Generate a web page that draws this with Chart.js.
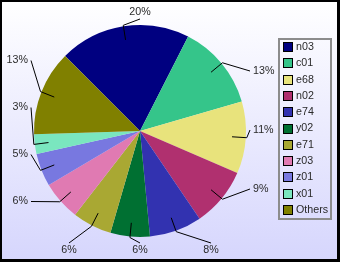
<!DOCTYPE html>
<html>
<head>
<meta charset="utf-8">
<script src="https://cdn.jsdelivr.net/npm/chart.js@4/dist/chart.umd.min.js"></script>
<style>
  html, body { margin: 0; padding: 0; background: #fff; }
  #wrap { position: relative; width: 340px; height: 262px; background: #000; overflow: hidden; }
  #bg { position: absolute; left: 2px; top: 2px; width: 335px; height: 257px;
        background: linear-gradient(#ffffff, #d6d6fd); }
  #pie { position: absolute; left: 0; top: 0; }
</style>
</head>
<body>
<div id="wrap">
  <div id="bg"></div>
  <canvas id="pie" width="340" height="262"></canvas>
</div>
<script>
(() => {
    'use strict';

    const labels = ['n03', 'c01', 'e68', 'n02', 'e74', 'y02', 'e71', 'z03', 'z01', 'x01', 'Others'];
    const values = [20, 13, 11, 9, 8, 6, 6, 6, 5, 3, 13];
    const colors = ['#000080', '#35c58a', '#e8e37c', '#b0306f', '#3232b0', '#007032',
                    '#a9a833', '#e07ab2', '#7878e0', '#7ae6bf', '#808000'];

    const font = '10.7px "Liberation Sans", Arial, sans-serif';
    const textColor = '#2a2a2a';

    // labels are spread along the four sides of the pie, like the original renderer does
    const sideStep = { left: 47, right: 59, bottom: 71, top: 71 };

    const sideOf = deg => {
        if (deg >= -135 && deg < -45) return 'top';
        if (deg >= -45 && deg < 45) return 'right';
        if (deg >= 45 && deg < 135) return 'bottom';
        return 'left';
    };

    const pieLabels = {
        id: 'pieLabels',
        afterDatasetsDraw(chart) {
            const { ctx } = chart;
            const arcs = chart.getDatasetMeta(0).data;
            const total = values.reduce((a, b) => a + b, 0);
            const groups = { top: [], right: [], bottom: [], left: [] };

            arcs.forEach((arc, i) => {
                const mid = (arc.startAngle + arc.endAngle) / 2;
                let deg = mid * 180 / Math.PI;
                while (deg >= 180) deg -= 360;
                while (deg < -180) deg += 360;
                groups[sideOf(deg)].push({ arc, i, mid });
            });

            ctx.save();
            ctx.font = font;
            ctx.strokeStyle = '#000';
            ctx.lineWidth = 1;
            ctx.fillStyle = textColor;

            Object.entries(groups).forEach(([side, items]) => {
                const horiz = side === 'top' || side === 'bottom';
                items.sort((a, b) => horiz ? Math.cos(a.mid) - Math.cos(b.mid) : Math.sin(a.mid) - Math.sin(b.mid));
                const n = items.length;
                items.forEach((it, k) => {
                    const { arc, i, mid } = it;
                    const cx = arc.x, cy = arc.y, r = arc.outerRadius;
                    const off = (k - (n - 1) / 2) * sideStep[side];
                    let ax, ay, tx, ty, align;
                    if (side === 'top') { ax = cx + off; ay = cy - r - 6; tx = ax; ty = ay - 7; align = 'center'; }
                    else if (side === 'bottom') { ax = cx + off; ay = cy + r + 6; tx = ax; ty = ay + 7; align = 'center'; }
                    else if (side === 'right') { ax = cx + r + 4; ay = cy - 1 + off; tx = ax + 3; ty = ay; align = 'left'; }
                    else { ax = cx - r - 3; ay = cy + off; tx = ax - 3; ty = ay; align = 'right'; }

                    const c = Math.cos(mid), s = Math.sin(mid);
                    ctx.beginPath();
                    ctx.moveTo(cx + c * r * 0.87, cy + s * r * 0.87);
                    ctx.lineTo(cx + c * (r + 1), cy + s * (r + 1));
                    ctx.lineTo(ax, ay);
                    ctx.stroke();

                    ctx.textAlign = align;
                    ctx.textBaseline = 'middle';
                    ctx.fillText(Math.round(values[i] / total * 100) + '%', tx, ty);
                });
            });
            ctx.restore();
        }
    };

    const boxLegend = {
        id: 'boxLegend',
        afterDraw(chart) {
            const { ctx } = chart;
            ctx.save();
            ctx.strokeStyle = '#8c8c8c';
            ctx.lineWidth = 2;
            ctx.strokeRect(279, 39, 52, 180);
            ctx.font = font;
            ctx.textAlign = 'left';
            ctx.textBaseline = 'middle';
            labels.forEach((name, i) => {
                const y = 47 + i * 16.3;
                ctx.fillStyle = colors[i];
                ctx.fillRect(283, Math.round(y) - 5, 10, 10);
                ctx.lineWidth = 1;
                ctx.strokeStyle = '#000';
                ctx.strokeRect(283.5, Math.round(y) - 4.5, 9, 9);
                ctx.fillStyle = textColor;
                ctx.fillText(name, 296, y);
            });
            ctx.restore();
        }
    };

    new Chart(document.getElementById('pie'), {
        type: 'pie',
        data: {
            labels,
            datasets: [{ data: values, backgroundColor: colors, borderWidth: 0 }]
        },
        options: {
            responsive: false,
            animation: false,
            rotation: -45,
            layout: { padding: { left: 34, top: 25, right: 94, bottom: 25 } },
            plugins: { legend: { display: false }, tooltip: { enabled: false } }
        },
        plugins: [pieLabels, boxLegend]
    });
})();
</script>
</body>
</html>
